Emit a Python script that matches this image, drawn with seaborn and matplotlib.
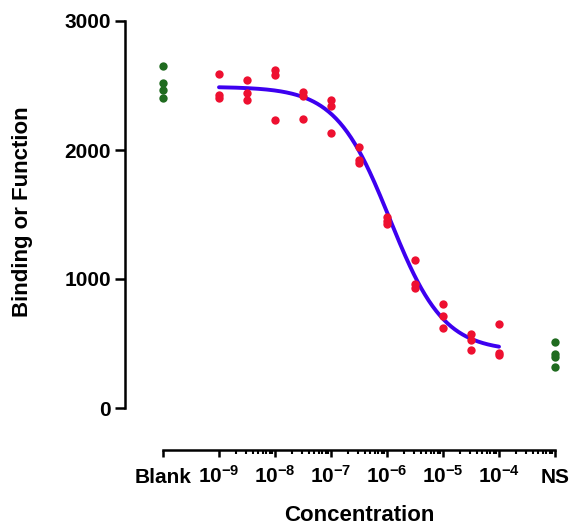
import numpy as np
import pandas as pd
import matplotlib
matplotlib.use("Agg")
import matplotlib.pyplot as plt
import seaborn as sns

# ---- data ----
# log10 of concentration (M) for the dose points
log_conc = [-9.0, -8.5, -8.0, -7.5, -7.0, -6.5, -6.0, -5.5, -5.0, -4.5, -4.0]
rep_1 = [2590, 2540, 2620, 2450, 2390, 2020, 1480, 1150, 810, 570, 650]
rep_2 = [2430, 2440, 2580, 2420, 2340, 1920, 1450, 960, 710, 530, 430]
rep_3 = [2400, 2390, 2230, 2240, 2130, 1900, 1430, 930, 620, 450, 410]

# controls, drawn at the "Blank" and "NS" slots of the axis
blank_pos = -10.0
ns_pos = -3.0
blank_vals = [2655, 2520, 2465, 2400]
ns_vals = [515, 420, 395, 315]

# fitted four-parameter logistic (values estimated from the drawn curve)
fit_top = 2490
fit_bottom = 440
fit_log_ic50 = -5.95
fit_hill = 0.9

tick_pos = [-10, -9, -8, -7, -6, -5, -4, -3]
tick_labels = ["Blank", r"$10^{-9}$", r"$10^{-8}$", r"$10^{-7}$", r"$10^{-6}$",
               r"$10^{-5}$", r"$10^{-4}$", "NS"]
y_ticks = [0, 1000, 2000, 3000]

# ---- style ----
sns.set_style("ticks")
plt.rcParams["font.family"] = ["Liberation Sans", "DejaVu Sans"]
plt.rcParams["font.weight"] = "bold"
plt.rcParams["mathtext.fontset"] = "custom"
plt.rcParams["mathtext.rm"] = "Liberation Sans:bold"
plt.rcParams["mathtext.it"] = "Liberation Sans:bold"
plt.rcParams["mathtext.bf"] = "Liberation Sans:bold"
for key in ["text.color", "axes.labelcolor", "xtick.color", "ytick.color", "axes.edgecolor"]:
    plt.rcParams[key] = "black"

red = "#ee1030"
green = "#1f6b1f"
blue = "#3d00f0"

df = pd.DataFrame({
    "logc": np.repeat(log_conc, 3),
    "resp": np.column_stack([rep_1, rep_2, rep_3]).ravel(),
})
ctrl = pd.DataFrame({
    "logc": [blank_pos] * len(blank_vals) + [ns_pos] * len(ns_vals),
    "resp": blank_vals + ns_vals,
})

x_fit = np.linspace(min(log_conc), max(log_conc), 300)
y_fit = fit_bottom + (fit_top - fit_bottom) / (1 + 10 ** (fit_hill * (x_fit - fit_log_ic50)))
curve = pd.DataFrame({"logc": x_fit, "resp": y_fit})

fig = plt.figure(figsize=(5.69, 5.27), dpi=100)
ax = fig.add_axes([163 / 569, 1 - 408 / 527, 392 / 569, 387 / 527])

sns.lineplot(data=curve, x="logc", y="resp", color=blue, linewidth=2.8, ax=ax, zorder=2)
sns.scatterplot(data=df, x="logc", y="resp", color=red, s=36, linewidth=0, ax=ax, zorder=3, clip_on=False)
sns.scatterplot(data=ctrl, x="logc", y="resp", color=green, s=36, linewidth=0, ax=ax, zorder=3, clip_on=False)

ax.set_xlim(-10, -3)
ax.set_ylim(0, 3000)

# Prism-like detached axes
sns.despine(ax=ax)
ax.spines["left"].set_position(("outward", 27.4))
ax.spines["bottom"].set_position(("outward", 30.2))
ax.spines["left"].set_linewidth(1.8)
ax.spines["bottom"].set_linewidth(1.8)

ax.set_yticks(y_ticks)
ax.set_yticklabels([str(v) for v in y_ticks], fontsize=15, fontweight="bold")
ax.tick_params(axis="y", direction="out", length=7, width=1.8, pad=3)

ax.set_xticks(tick_pos)
ax.set_xticklabels(tick_labels, fontsize=15, fontweight="bold", va="baseline")
minor = [d + np.log10(k) for d in range(-9, -3) for k in range(2, 10)]
ax.set_xticks(minor, minor=True)
ax.tick_params(axis="x", which="major", direction="out", length=5, width=1.8, pad=19)
ax.tick_params(axis="x", which="minor", direction="out", length=3, width=1.5)

ax.set_xlabel("Concentration", fontsize=16, fontweight="bold", va="center")
ax.set_ylabel("Binding or Function", fontsize=16, fontweight="bold", va="center")
ax.xaxis.set_label_coords(0.5, -0.278)
ax.yaxis.set_label_coords(-0.358, 0.506)

fig.savefig("out.png", dpi=100)
